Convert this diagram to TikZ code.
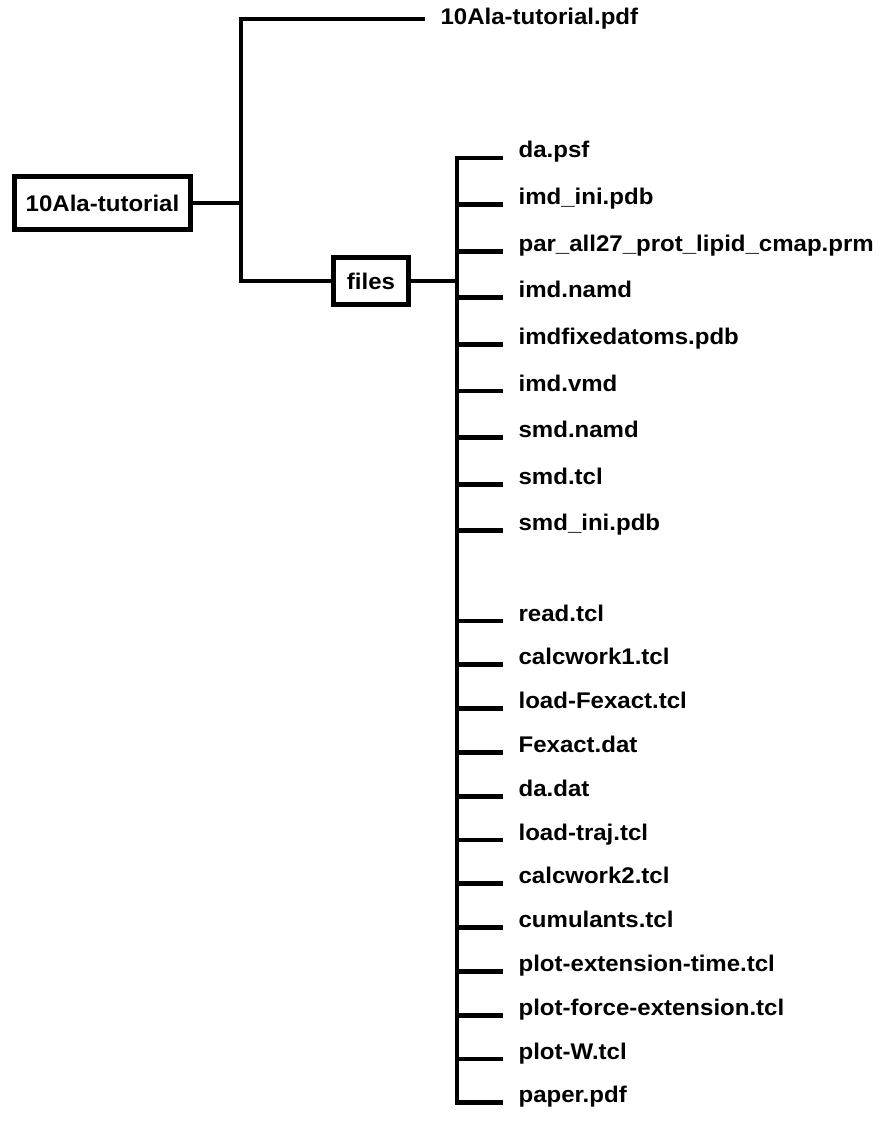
\documentclass[tikz,border=0pt]{standalone}
\usepackage{fontspec}
\setmainfont{Liberation Sans}[FakeStretch=1.06]
\usepackage{tikz}

\begin{document}
\begin{tikzpicture}[x=0.75pt,y=0.75pt,yscale=-1,xscale=1,
  every node/.style={font=\fontsize{17}{20}\selectfont\bfseries},
  box/.style={draw,line width=3.6pt,inner sep=0pt},
  leaf/.style={anchor=base west,inner xsep=11.5pt,inner ysep=0pt},
  branch/.style={line width=3.6pt}]
%set diagram left start at 0, and has height of 1123
\path (0,0) rectangle (883,1123);

%Shape: Rectangle
\node [box,minimum width=132pt,minimum height=39.4pt] (root) at (102.5,203) {10Ala-tutorial};
%Shape: Rectangle
\node [box,minimum width=56.6pt,minimum height=34.9pt] (files) at (371,281) {files};

% Text Node
\node [leaf,anchor=west] (pdf) at (425,19) {10Ala-tutorial.pdf};
% Text Node
\node [leaf] (f1) at (503,158) {da.psf};
\node [leaf] (f2) at (503,204.6) {imd\_ini.pdb};
\node [leaf] (f3) at (503,251.2) {par\_all27\_prot\_lipid\_cmap.prm};
\node [leaf] (f4) at (503,297.8) {imd.namd};
\node [leaf] (f5) at (503,344.4) {imdfixedatoms.pdb};
\node [leaf] (f6) at (503,391) {imd.vmd};
\node [leaf] (f7) at (503,437.6) {smd.namd};
\node [leaf] (f8) at (503,484.2) {smd.tcl};
\node [leaf] (f9) at (503,530.8) {smd\_ini.pdb};
% Text Node
\node [leaf] (f10) at (503,621) {read.tcl};
\node [leaf] (f11) at (503,664.8) {calcwork1.tcl};
\node [leaf] (f12) at (503,708.6) {load-Fexact.tcl};
\node [leaf] (f13) at (503,752.4) {Fexact.dat};
\node [leaf] (f14) at (503,796.2) {da.dat};
\node [leaf] (f15) at (503,840) {load-traj.tcl};
\node [leaf] (f16) at (503,883.8) {calcwork2.tcl};
\node [leaf] (f17) at (503,927.6) {cumulants.tcl};
\node [leaf] (f18) at (503,971.4) {plot-extension-time.tcl};
\node [leaf] (f19) at (503,1015.2) {plot-force-extension.tcl};
\node [leaf] (f20) at (503,1059) {plot-W.tcl};
\node [leaf] (f21) at (503,1102.8) {paper.pdf};

%Straight Lines
\coordinate (rj) at (241,203);
\coordinate (fj) at (457,281);
\draw [branch] (root) -- (rj) ;
\draw [branch] (pdf.west) -| (rj) |- (files) ;
\draw [branch] (files) -- (fj) ;
\draw [branch] (f1.base west) -| (fj) |- (f21.base west) ;
\draw [branch] (f2.base west -| fj) -- (f2.base west) ;
\draw [branch] (f3.base west -| fj) -- (f3.base west) ;
\draw [branch] (f4.base west -| fj) -- (f4.base west) ;
\draw [branch] (f5.base west -| fj) -- (f5.base west) ;
\draw [branch] (f6.base west -| fj) -- (f6.base west) ;
\draw [branch] (f7.base west -| fj) -- (f7.base west) ;
\draw [branch] (f8.base west -| fj) -- (f8.base west) ;
\draw [branch] (f9.base west -| fj) -- (f9.base west) ;
\draw [branch] (f10.base west -| fj) -- (f10.base west) ;
\draw [branch] (f11.base west -| fj) -- (f11.base west) ;
\draw [branch] (f12.base west -| fj) -- (f12.base west) ;
\draw [branch] (f13.base west -| fj) -- (f13.base west) ;
\draw [branch] (f14.base west -| fj) -- (f14.base west) ;
\draw [branch] (f15.base west -| fj) -- (f15.base west) ;
\draw [branch] (f16.base west -| fj) -- (f16.base west) ;
\draw [branch] (f17.base west -| fj) -- (f17.base west) ;
\draw [branch] (f18.base west -| fj) -- (f18.base west) ;
\draw [branch] (f19.base west -| fj) -- (f19.base west) ;
\draw [branch] (f20.base west -| fj) -- (f20.base west) ;

\end{tikzpicture}
\end{document}
